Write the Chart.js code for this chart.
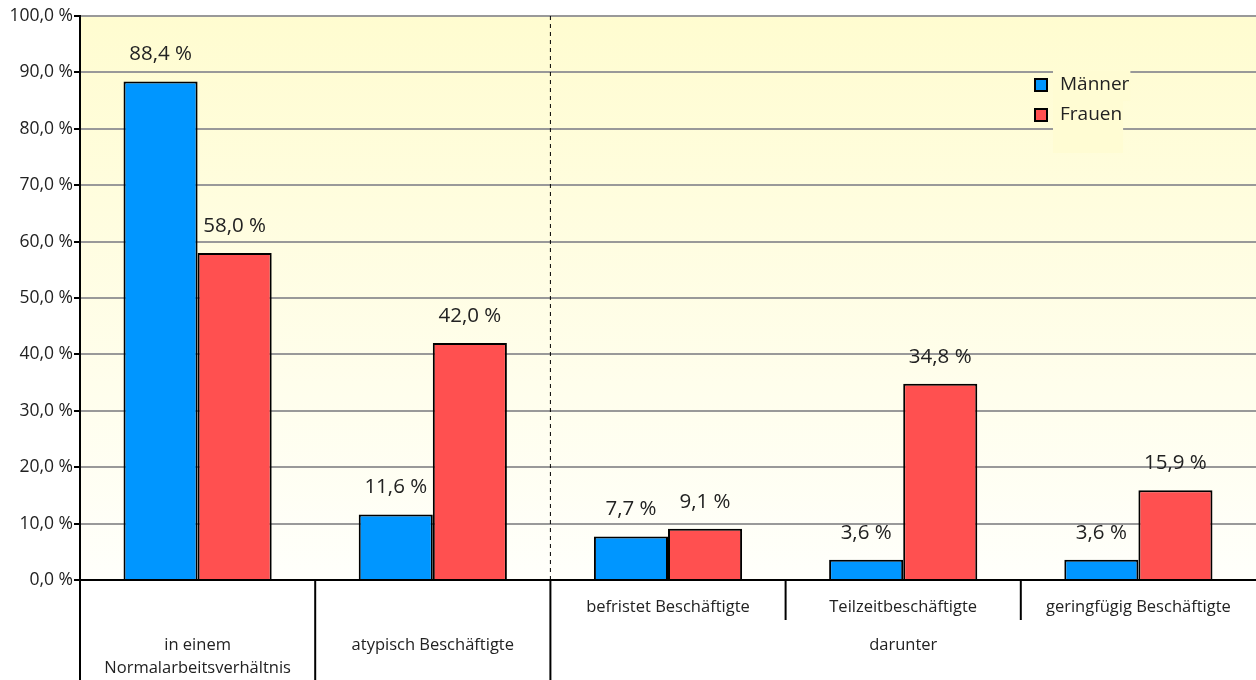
<!DOCTYPE html>
<html lang="de">
<head>
  <meta charset="UTF-8" />
  <title>Beschäftigte nach Geschlecht</title>
  <script src="https://cdn.jsdelivr.net/npm/chart.js"></script>
  <style>
    body {
      margin: 0;
      background: #ffffff;
    }
    .wrap {
      width: 1256px;
      height: 680px;
    }
  </style>
</head>
<body>

<div class="wrap">
  <canvas id="chart"></canvas>
</div>

<script>
  // Daten
  const kategorien = ['in einem\nNormalarbeitsverhältnis', 'atypisch Beschäftigte', 'befristet Beschäftigte', 'Teilzeitbeschäftigte', 'geringfügig Beschäftigte'];
  const gruppeDarunter = 'darunter';
  const maenner = [88.4, 11.6, 7.7, 3.6, 3.6];
  const frauen = [58.0, 42.0, 9.1, 34.8, 15.9];
  const serien = ['Männer', 'Frauen'];

  const FONT = '"Open Sans", "Noto Sans", sans-serif';
  const fmt = v => v.toFixed(1).replace('.', ',') + ' %';

  // Hintergrund mit Verlauf (gelb -> weiss)
  const hintergrund = {
    id: 'hintergrund',
    beforeDraw(chart) {
      const { ctx, chartArea: a } = chart;
      const g = ctx.createLinearGradient(0, a.top, 0, a.bottom);
      g.addColorStop(0, '#fffcd0');
      g.addColorStop(1, '#fffffb');
      ctx.save();
      ctx.fillStyle = g;
      ctx.fillRect(a.left, a.top, a.right - a.left, a.bottom - a.top);
      ctx.restore();
    }
  };

  // Trennlinien, Kategorietexte, gestrichelte Linie
  const kategorieAchse = {
    id: 'kategorieAchse',
    afterDraw(chart) {
      const { ctx, chartArea: a } = chart;
      const x = chart.scales.x;
      const grenze = i => (x.getPixelForValue(i) + x.getPixelForValue(i + 1)) / 2;
      ctx.save();
      ctx.strokeStyle = '#000';
      ctx.lineWidth = 2;
      // senkrechte Linien unterhalb der Achse
      const linien = [[a.left, 680], [grenze(0), 680], [grenze(1), 680], [grenze(2), 620], [grenze(3), 620]];
      linien.forEach(([lx, ende]) => {
        ctx.beginPath();
        ctx.moveTo(lx, a.bottom);
        ctx.lineTo(lx, ende);
        ctx.stroke();
      });
      // gestrichelte Linie
      ctx.lineWidth = 1;
      ctx.setLineDash([4, 4]);
      ctx.beginPath();
      ctx.moveTo(grenze(1), a.top);
      ctx.lineTo(grenze(1), a.bottom);
      ctx.stroke();
      ctx.setLineDash([]);

      ctx.fillStyle = '#222';
      ctx.font = '16.5px ' + FONT;
      ctx.textAlign = 'center';
      ctx.textBaseline = 'middle';
      kategorien.forEach((k, i) => {
        const cx = x.getPixelForValue(i);
        const zeilen = k.split('\n');
        if (i < 2) {
          zeilen.forEach((z, j) => ctx.fillText(z, cx, 645 + j * 23));
        } else {
          ctx.fillText(k, cx, 607);
        }
      });
      const mitte = (grenze(1) + a.right) / 2;
      ctx.fillText(gruppeDarunter, mitte, 645);
      ctx.restore();
    }
  };

  // Werte über den Balken
  const werteLabels = {
    id: 'werteLabels',
    afterDatasetsDraw(chart) {
      const { ctx } = chart;
      ctx.save();
      ctx.fillStyle = '#222';
      ctx.font = '20.5px ' + FONT;
      ctx.textAlign = 'center';
      ctx.textBaseline = 'middle';
      chart.data.datasets.forEach((ds, di) => {
        chart.getDatasetMeta(di).data.forEach((bar, i) => {
          ctx.fillText(fmt(ds.data[i]), bar.x, bar.y - 27);
        });
      });
      ctx.restore();
    }
  };

  // Legende rechts oben
  const legende = {
    id: 'legende',
    afterDraw(chart) {
      const { ctx } = chart;
      ctx.save();
      ctx.font = '19px ' + FONT;
      ctx.textBaseline = 'middle';
      chart.data.datasets.forEach((ds, i) => {
        const y = 85 + i * 30;
        const w = ctx.measureText(ds.label).width;
        ctx.fillStyle = '#fffcd3';
        ctx.fillRect(1053, y - 14, w + 8, i === 1 ? 52 : 30);
        ctx.fillStyle = ds.backgroundColor;
        ctx.fillRect(1035, y - 6, 12, 12);
        ctx.strokeStyle = '#000';
        ctx.lineWidth = 2;
        ctx.strokeRect(1035, y - 6, 12, 12);
        ctx.fillStyle = '#222';
        ctx.fillText(ds.label, 1060, y);
      });
      ctx.restore();
    }
  };

  new Chart(document.getElementById('chart'), {
    type: 'bar',
    data: {
      labels: kategorien,
      datasets: [
        { label: serien[0], data: maenner, backgroundColor: '#0096ff', borderColor: '#000', borderWidth: 2 },
        { label: serien[1], data: frauen, backgroundColor: '#ff5050', borderColor: '#000', borderWidth: 2 }
      ]
    },
    options: {
      responsive: true,
      maintainAspectRatio: false,
      animation: false,
      layout: { padding: { top: 16, left: 0, right: 0, bottom: 0 } },
      datasets: { bar: { categoryPercentage: 0.63, barPercentage: 1.0 } },
      plugins: {
        legend: { display: false },
        tooltip: { enabled: false }
      },
      scales: {
        x: {
          grid: { display: false },
          ticks: { display: false },
          border: { color: '#000', width: 2 },
          afterFit(s) { s.height = 100; }
        },
        y: {
          min: 0,
          max: 100,
          ticks: {
            stepSize: 10,
            padding: 1,
            color: '#222',
            font: { size: 17.5, family: FONT },
            callback: v => fmt(v)
          },
          grid: { color: '#999', lineWidth: 2, tickLength: 6, tickColor: '#000' },
          border: { color: '#000', width: 2 },
          afterFit(s) { s.width = 80; }
        }
      }
    },
    plugins: [hintergrund, kategorieAchse, werteLabels, legende]
  });
</script>

</body>
</html>
